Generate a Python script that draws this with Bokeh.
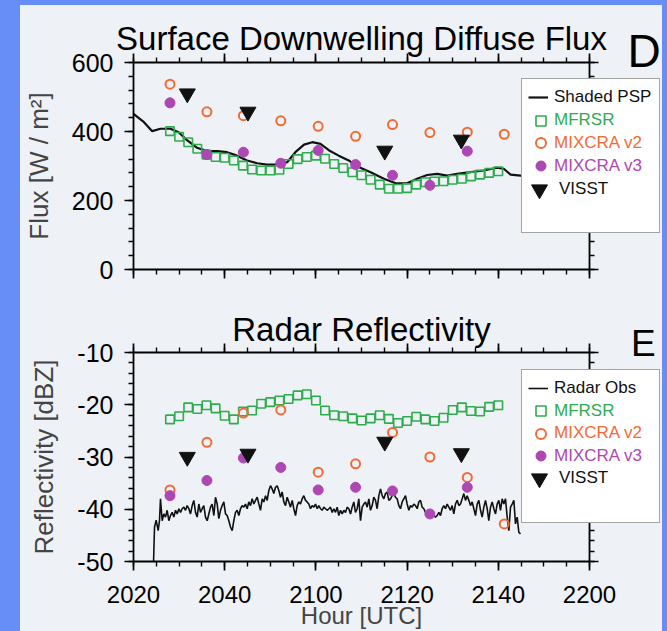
from bokeh.plotting import figure
from bokeh.models import Range1d, LinearAxis, FixedTicker, Legend, LegendItem, Label
from bokeh.layouts import column
from bokeh.embed import file_html
from bokeh.resources import INLINE

FONT = "Liberation Sans"
GREEN = "#2fac4e"
ORANGE = "#f26b35"
PURPLE = "#ad47b3"
BLACK = "#111111"
PANEL = "#eef1f5"
BLUE = "#668ef6"

# ---------------- data (time = minutes after 20:00 UTC) ----------------
tick_minutes = [20, 40, 60, 80, 100, 120]
tick_labels = ["2020", "2040", "2100", "2120", "2140", "2200"]
minor_minutes = [20, 25, 30, 35, 40, 45, 50, 55, 60, 65, 70, 75, 80, 85, 90, 95, 100, 105, 110, 115, 120]
flux_ticks = [0, 200, 400, 600]
flux_minor = [0, 40, 80, 120, 160, 200, 240, 280, 320, 360, 400, 440, 480, 520, 560, 600]
dbz_ticks = [-50, -40, -30, -20, -10]
dbz_minor = [-50, -48, -46, -44, -42, -40, -38, -36, -34, -32, -30, -28, -26, -24, -22, -20,
             -18, -16, -14, -12, -10]

# Panel D: surface downwelling diffuse flux
psp_time = [20.0, 22.3, 24.1, 25.9, 28.1, 29.9, 31.8, 33.9, 36.2, 38.4, 40.5, 42.7, 44.9, 47.1,
            49.3, 51.5, 53.7, 55.5, 57.4, 59.2, 61.0, 62.9, 65.0, 67.2, 69.0, 72.0, 74.9, 77.5,
            80.0, 82.2, 84.4, 86.6, 88.8, 91.0, 93.9, 96.8, 99.7, 101.2, 102.7, 104.9, 107.0]
psp_flux = [451, 427, 401, 408, 408, 398, 374, 353, 343, 343, 340, 330, 316, 308, 304, 304, 311,
            340, 362, 369, 364, 345, 330, 316, 299, 282, 263, 250, 250, 263, 274, 277, 272, 277,
            282, 287, 295, 292, 275, 272, 271]

mfrsr_time = [28, 30, 32, 34, 36, 38, 40, 42, 44, 46, 48, 50, 52, 54, 56, 58, 60, 62, 64, 66,
              68, 70, 72, 74, 76, 78, 80, 82, 84, 86, 88, 90, 92, 94, 96, 98, 100]
mfrsr_flux = [401, 385, 369, 350, 333, 326, 324, 316, 301, 290, 287, 287, 289, 306, 320, 326, 330,
              321, 306, 294, 282, 273, 260, 246, 234, 234, 236, 246, 253, 255, 256, 260, 263, 270,
              275, 280, 285]
mfrsr_dbz = [-22.8, -22.2, -20.5, -20.8, -20.1, -20.7, -22.1, -22.8, -21.3, -21.1, -19.8, -19.5,
             -19.2, -18.9, -18.2, -18.0, -19.2, -21.1, -22.0, -22.2, -22.6, -23.0, -22.6, -22.0,
             -22.7, -23.5, -23.1, -22.3, -22.8, -23.1, -22.5, -21.0, -20.5, -21.2, -21.3, -20.4,
             -20.1]

v2_time = [28.0, 36.1, 44.1, 52.3, 60.5, 68.7, 76.8, 85.0, 93.2, 101.3]
v2_flux = [537, 457, 446, 431, 415, 386, 420, 397, 398, 392]
v2_dbz = [-36.3, -27.2, -21.6, -21.0, -32.9, -31.3, -25.3, -30.0, -33.9, -42.8]

v3_time = [28.0, 36.1, 44.1, 52.3, 60.5, 68.7, 76.8, 85.0, 93.2]
v3_flux = [483, 333, 340, 308, 345, 304, 273, 244, 343]
v3_dbz = [-37.4, -34.5, -30.2, -32.0, -36.3, -35.8, -36.5, -40.9, -35.8]

visst_time = [31.8, 45.1, 75.1, 91.9]
visst_flux = [510, 457, 344, 376]
visst_dbz = [-30.0, -29.4, -27.1, -29.3]

# Panel E: radar reflectivity observations
radar_time = [24.40, 24.61, 24.97, 25.41, 25.70, 25.92, 26.29, 26.65, 27.02, 27.38, 27.75, 28.11,
              28.48, 28.85, 29.21, 29.58, 29.94, 30.31, 30.67, 31.04, 31.40, 31.77, 32.14, 32.50,
              32.87, 33.23, 33.60, 33.96, 34.33, 34.69, 35.06, 35.42, 35.79, 36.16, 36.52, 36.89,
              37.25, 37.62, 37.98, 38.35, 38.71, 39.08, 39.45, 39.81, 40.18, 40.54, 40.91, 41.27,
              41.64, 42.00, 42.37, 42.74, 43.10, 43.47, 43.83, 44.20, 44.56, 44.93, 45.29, 45.66,
              46.02, 46.39, 46.76, 47.12, 47.49, 47.85, 48.22, 48.58, 48.95, 49.31, 49.68, 50.05,
              50.41, 50.77, 51.14, 51.51, 51.87, 52.24, 52.60, 52.97, 53.33, 53.70, 54.06, 54.43,
              54.80, 55.16, 55.53, 55.89, 56.26, 56.62, 56.99, 57.35, 57.72, 58.08, 58.45, 58.82,
              59.18, 59.55, 59.91, 60.28, 60.64, 61.01, 61.37, 61.74, 62.11, 62.47, 62.84, 63.20,
              63.57, 63.93, 64.30, 64.66, 65.03, 65.39, 65.76, 66.13, 66.49, 66.86, 67.22, 67.59,
              67.95, 68.32, 68.68, 69.05, 69.41, 69.78, 70.15, 70.51, 70.88, 71.24, 71.61, 71.97,
              72.34, 72.70, 73.07, 73.43, 73.80, 74.17, 74.53, 74.90, 75.26, 75.63, 75.99, 76.36,
              76.72, 77.09, 77.45, 77.82, 78.19, 78.55, 78.92, 79.28, 79.65, 80.01, 80.38, 80.75,
              81.11, 81.48, 81.84, 82.21, 82.57, 82.94, 83.30, 83.67, 84.04, 84.40, 84.77, 85.13,
              85.50, 85.86, 86.23, 86.59, 86.96, 87.32, 87.69, 88.06, 88.42, 88.79, 89.15, 89.52,
              89.88, 90.25, 90.61, 90.98, 91.35, 91.71, 92.08, 92.44, 92.81, 93.17, 93.54, 93.90,
              94.27, 94.64, 95.00, 95.37, 95.73, 96.10, 96.46, 96.83, 97.19, 97.56, 97.92, 98.29,
              98.66, 99.02, 99.39, 99.75, 100.12, 100.48, 100.85, 101.21, 101.58, 101.95, 102.31,
              102.68, 103.04, 103.41, 103.77, 104.14, 104.50, 104.87]
radar_dbz = [-50.0, -43.4, -42.1, -44.1, -42.2, -38.0, -42.2, -40.9, -41.5, -40.2, -42.2, -41.2,
             -40.6, -41.5, -40.2, -40.9, -39.9, -40.6, -39.9, -39.6, -40.2, -39.3, -39.9, -40.9,
             -39.3, -38.3, -40.6, -41.5, -39.0, -40.6, -39.9, -39.3, -41.5, -42.2, -40.9, -39.6,
             -39.0, -41.2, -37.7, -39.0, -41.8, -40.2, -39.3, -38.6, -40.9, -41.2, -42.2, -43.4,
             -44.1, -42.2, -40.6, -40.2, -41.2, -39.9, -39.3, -39.6, -39.0, -39.9, -38.6, -39.3,
             -38.0, -39.0, -38.3, -37.7, -39.0, -40.2, -38.0, -38.6, -37.4, -38.3, -36.4, -35.5,
             -36.1, -37.0, -35.8, -35.5, -36.4, -37.7, -36.7, -38.6, -39.3, -37.7, -38.6, -39.6,
             -38.3, -39.9, -41.2, -39.3, -38.6, -39.0, -38.0, -37.4, -38.3, -38.6, -39.0, -39.9,
             -39.3, -39.6, -39.0, -39.9, -39.3, -39.9, -40.2, -39.6, -39.9, -40.2, -39.9, -39.6,
             -40.6, -39.9, -40.6, -39.6, -41.2, -40.2, -40.9, -40.2, -40.6, -39.6, -39.9, -40.9,
             -39.6, -38.6, -40.6, -39.9, -38.0, -42.2, -39.6, -39.0, -38.6, -39.6, -38.0, -40.2,
             -39.3, -37.7, -38.3, -39.9, -37.4, -36.1, -37.4, -38.0, -37.0, -36.7, -38.3, -38.0,
             -37.4, -37.0, -37.7, -38.0, -39.3, -39.9, -38.6, -38.0, -37.4, -39.0, -40.2, -39.3,
             -39.6, -39.0, -39.3, -39.9, -38.6, -38.3, -39.6, -39.9, -40.6, -41.2, -40.9, -41.2,
             -40.9, -41.2, -41.5, -41.2, -40.6, -41.2, -39.9, -39.3, -39.9, -39.0, -39.6, -40.2,
             -39.3, -40.9, -39.0, -38.3, -39.3, -39.0, -38.0, -37.0, -38.3, -37.4, -38.3, -39.3,
             -38.6, -39.9, -41.2, -39.0, -38.3, -40.2, -41.5, -39.6, -38.3, -39.9, -42.2, -39.6,
             -38.6, -39.9, -40.9, -39.0, -38.3, -40.2, -38.0, -39.0, -38.0, -41.5, -44.1,
             -39.6, -39.0, -38.3, -42.8, -41.5, -44.4, -44.7]

# ---------------- layout geometry (page pixels) ----------------
FIG_LEFT, FIG_RIGHT = 20, 662          # figures span this on the page
AX_LEFT, AX_RIGHT = 133, 589           # where 2020 and 2200 sit


def at_pixel(v0, p0, v1, p1, p):
    return v0 + (p - p0) * (v1 - v0) / (p1 - p0)


X_START = at_pixel(20, AX_LEFT, 120, AX_RIGHT, FIG_LEFT)
X_END = at_pixel(20, AX_LEFT, 120, AX_RIGHT, FIG_RIGHT)


def style_axis(ax, ticks, minor, overrides, show, font_size="24px", standoff=10):
    ax.ticker = FixedTicker(ticks=ticks, minor_ticks=minor)
    ax.axis_line_color = "black"
    ax.axis_line_width = 1.8
    ax.major_tick_line_color = "black"
    ax.major_tick_line_width = 1.7
    ax.minor_tick_line_color = "black"
    ax.minor_tick_line_width = 1.4
    ax.major_tick_in = 0
    ax.major_tick_out = 9
    ax.minor_tick_in = 0
    ax.minor_tick_out = 5
    if show:
        ax.major_label_overrides = overrides
        ax.major_label_text_font = FONT
        ax.major_label_text_font_size = font_size
        ax.major_label_text_color = "black"
        ax.major_label_standoff = standoff
    else:
        ax.major_label_overrides = {t: "" for t in ticks}
        ax.major_label_text_font_size = "1px"
        ax.major_label_standoff = 0


def make_fig(page_top, page_bottom, ylo, ylo_px, yhi, yhi_px, yticks, yminor, ylabel, show_x):
    y_start = at_pixel(ylo, ylo_px, yhi, yhi_px, page_bottom)
    y_end = at_pixel(ylo, ylo_px, yhi, yhi_px, page_top)
    p = figure(width=FIG_RIGHT - FIG_LEFT, height=page_bottom - page_top,
               x_range=Range1d(X_START, X_END), y_range=Range1d(y_start, y_end),
               output_backend="svg", toolbar_location=None,
               min_border_left=0, min_border_right=0, min_border_top=0, min_border_bottom=0,
               background_fill_color=PANEL, border_fill_color=PANEL, outline_line_color=None)
    p.grid.visible = False
    xb = p.below[0]
    yl = p.left[0]
    xmap = dict(zip(tick_minutes, tick_labels))
    style_axis(xb, tick_minutes, minor_minutes, xmap, show_x, "24px", 15)
    xb.bounds = (20, 120)
    xb.fixed_location = ylo
    ymap = {t: str(t) for t in yticks}
    style_axis(yl, yticks, yminor, ymap, True, "25px", 11)
    yl.bounds = (ylo, yhi)
    yl.fixed_location = 20
    yl.axis_label = ylabel
    yl.axis_label_text_font = FONT
    yl.axis_label_text_font_size = "26px"
    yl.axis_label_text_font_style = "normal"
    yl.axis_label_standoff = 15
    top = LinearAxis(fixed_location=yhi, bounds=(20, 120))
    style_axis(top, tick_minutes, minor_minutes, None, False)
    p.add_layout(top, "above")
    right = LinearAxis(fixed_location=120, bounds=(ylo, yhi))
    style_axis(right, yticks, yminor, None, False)
    p.add_layout(right, "right")
    return p, xb


def item_legend(p, r, label, color, loc, gw, gh, standoff):
    lg = Legend(items=[LegendItem(label=label, renderers=[r])], location=loc,
                orientation="vertical", padding=0, margin=0, spacing=0,
                glyph_width=gw, glyph_height=gh, label_height=gh, label_width=10,
                label_standoff=standoff, label_text_font=FONT, label_text_font_size="17px",
                label_text_color=color, border_line_color=None,
                background_fill_color=None, background_fill_alpha=0)
    p.add_layout(lg)


def box_legend(p, loc, w, h):
    dummy = p.scatter(x=[], y=[], fill_alpha=0, line_alpha=0)
    lg = Legend(items=[LegendItem(label="", renderers=[dummy])], location=loc,
                padding=0, margin=0, spacing=0, glyph_width=w, glyph_height=h,
                label_height=h, label_width=0, label_standoff=0,
                border_line_color="#4a4a4a", border_line_width=1.5,
                background_fill_color="white", background_fill_alpha=1)
    p.add_layout(lg)


def add_series(p, line_t, line_y, line_w, sq_y, v2_y, v3_y, vis_y):
    r_line = p.line(line_t, line_y, line_color=BLACK, line_width=line_w)
    r_sq = p.scatter(mfrsr_time, sq_y, marker="square", size=8.5, fill_color=None,
                     line_color=GREEN, line_width=1.6)
    r_v2 = p.scatter(v2_time, v2_y, marker="circle", size=9, fill_color=None,
                     line_color=ORANGE, line_width=2)
    r_v3 = p.scatter(v3_time, v3_y, marker="circle", size=10, fill_color=PURPLE,
                     line_color=PURPLE, line_width=1)
    r_vis = p.scatter(visst_time, vis_y, marker="inverted_triangle", size=16,
                      fill_color=BLACK, line_color=BLACK)
    return r_line, r_sq, r_v2, r_v3, r_vis


def add_legends(p, rens, line_label, page_bottom, box_top, box_bottom, rows):
    # positions are given in page pixels and converted to the frame's bottom-left origin
    r_line, r_sq, r_v2, r_v3, r_vis = rens
    box_legend(p, (521 - FIG_LEFT, page_bottom - box_bottom), 137, box_bottom - box_top)
    spec = [(r_line, line_label, BLACK, 528, 20, 22, 6),
            (r_sq, "MFRSR", GREEN, 528, 25, 25, 1),
            (r_v2, "MIXCRA v2", ORANGE, 528, 25, 25, 1),
            (r_v3, "MIXCRA v3", PURPLE, 528, 25, 25, 1),
            (r_vis, "VISST", BLACK, 519, 40, 40, 0)]
    for (r, lab, col, x0, gw, gh, so), c in zip(spec, rows):
        item_legend(p, r, lab, col, (x0 - FIG_LEFT, page_bottom - (c + gh / 2)), gw, gh, so)


# ---------------- Panel D ----------------
p1, _ = make_fig(5, 300, 0, 269, 600, 62, flux_ticks, flux_minor, "Flux [W / m\u00b2]", False)
rens1 = add_series(p1, psp_time, psp_flux, 2.2, mfrsr_flux, v2_flux, v3_flux, visst_flux)
add_legends(p1, rens1, "Shaded PSP", 300, 80, 233, [97.3, 120.1, 142.9, 165.7, 188.5])
p1.add_layout(Label(x=70, y=at_pixel(0, 269, 600, 62, 38), text="Surface Downwelling Diffuse Flux",
                    text_align="center", text_baseline="alphabetic", text_font=FONT,
                    text_font_size="33px", text_color="black"))
p1.add_layout(Label(x=132.0, y=at_pixel(0, 269, 600, 62, 50), text="D", text_align="center",
                    text_baseline="alphabetic", text_font=FONT, text_font_size="46px",
                    text_color="black"))
p1.margin = (5, 5, 0, 20)

# ---------------- Panel E ----------------
p2, xb2 = make_fig(300, 631, -50, 561, -10, 352, dbz_ticks, dbz_minor, "Reflectivity [dBZ]", True)
xb2.axis_label = "Hour [UTC]"
xb2.axis_label_text_font = FONT
xb2.axis_label_text_font_size = "24px"
xb2.axis_label_text_font_style = "normal"
xb2.axis_label_standoff = -4
rens2 = add_series(p2, radar_time, radar_dbz, 1.6, mfrsr_dbz, v2_dbz, v3_dbz, visst_dbz)
add_legends(p2, rens2, "Radar Obs", 631, 371, 523, [388.3, 410.8, 433.3, 455.8, 478.3])
p2.add_layout(Label(x=70, y=at_pixel(-50, 561, -10, 352, 329), text="Radar Reflectivity",
                    text_align="center", text_baseline="alphabetic", text_font=FONT,
                    text_font_size="33px", text_color="black"))
p2.add_layout(Label(x=131.8, y=at_pixel(-50, 561, -10, 352, 343), text="E", text_align="center",
                    text_baseline="alphabetic", text_font=FONT, text_font_size="37px",
                    text_color="black"))
p2.margin = (0, 5, 0, 20)

bg = f"linear-gradient({PANEL}, {PANEL}) 20px 5px / 642px 626px no-repeat, {BLUE}"
layout = column(p1, p2, spacing=0, styles={"background": bg})

open("out.html", "w").write(file_html(layout, INLINE))
